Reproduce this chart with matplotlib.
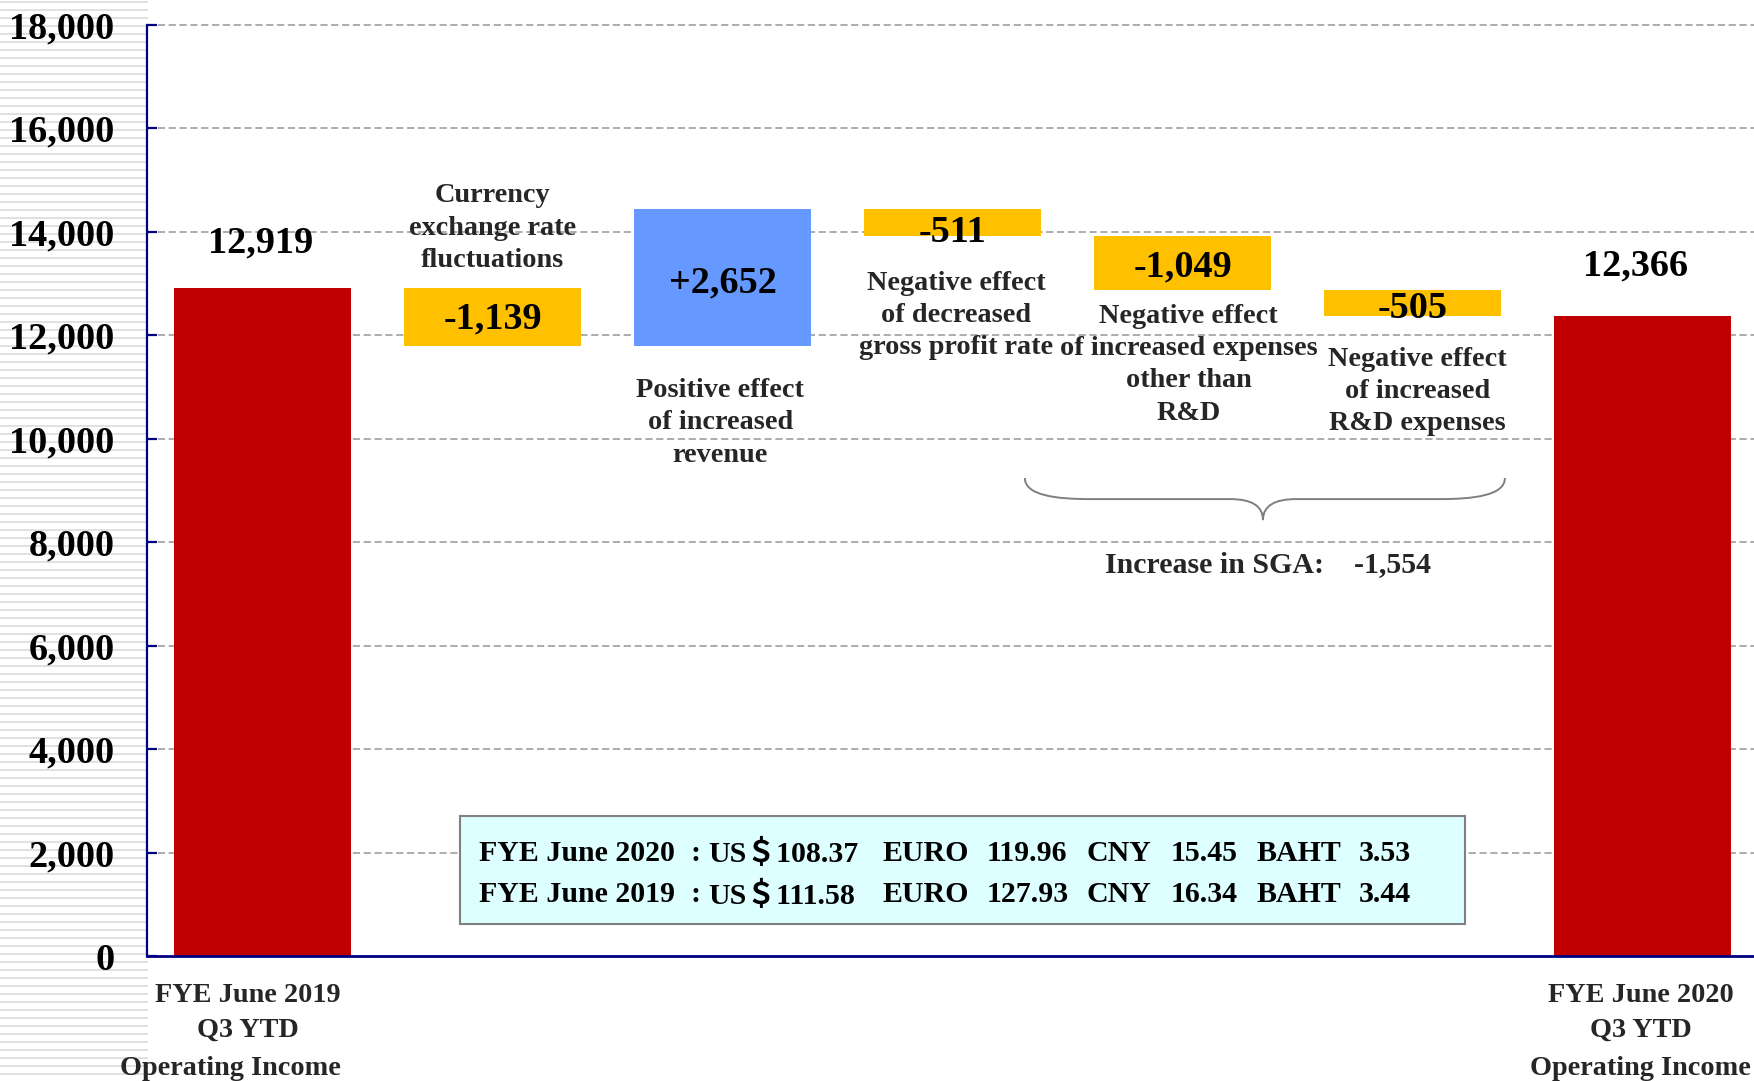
import matplotlib
matplotlib.use("Agg")
import matplotlib.pyplot as plt
from matplotlib.patches import Rectangle, PathPatch
from matplotlib.path import Path

# ---------------- data ----------------
start_label = "FYE June 2019\nQ3 YTD\nOperating Income"
end_label = "FYE June 2020\nQ3 YTD\nOperating Income"
start_value = 12919
end_value = 12366
change_labels = [
    "Currency\nexchange rate\nfluctuations",
    "Positive effect\nof increased\nrevenue",
    "Negative effect\nof decreased\ngross profit rate",
    "Negative effect\nof increased expenses\nother than\nR&D",
    "Negative effect\nof increased\nR&D expenses",
]
change_values = [-1139, 2652, -511, -1049, -505]
sga_label = "Increase in SGA:    -1,554"
yticks = [0, 2000, 4000, 6000, 8000, 10000, 12000, 14000, 16000, 18000]
fx_rows = [
    ["FYE June 2020", ":", "US＄108.37", "EURO", "119.96", "CNY", "15.45", "BAHT", "3.53"],
    ["FYE June 2019", ":", "US＄111.58", "EURO", "127.93", "CNY", "16.34", "BAHT", "3.44"],
]

# ---------------- style ----------------
RED = "#C00000"
GOLD = "#FFC000"
BLUE = "#6699FF"
NAVY = "#000080"
GRID = "#A6A6A6"
DARK = "#262626"
FONT = ["Liberation Serif", "DejaVu Serif"]
FONT_FX = ["Liberation Serif", "Noto Sans CJK JP", "DejaVu Serif"]
BIG = 27.5
MID = 20.3

W, H = 1754, 1081
fig = plt.figure(figsize=(W / 100, H / 100), dpi=100)
fig.patch.set_facecolor("white")

# striped decoration at the left
bg = fig.add_axes([0, 0, 148 / W, 1])
bg.set_xlim(0, 1)
bg.set_ylim(0, H)
bg.axis("off")
k = 0
while 1.7 + 8 * k < H:
    bg.axhline(H - (1.7 + 8 * k), color="#D9D9D9", lw=1.1)
    k += 1

ax = fig.add_axes([146.5 / W, 125 / H, 1 - 146.5 / W, 931.4 / H])
ax.set_facecolor("white")
ax.set_xlim(-0.505, 6.484)
ax.set_ylim(0, 18000)

bw = 0.767
n = len(change_values)
xs = list(range(n + 2))

# grid
for t in yticks[1:]:
    ax.axhline(t, color=GRID, lw=1.3, dashes=(4, 2), zorder=0.5, clip_on=False)

# start / end bars
ax.bar(xs[0], start_value, width=bw, color=RED, zorder=2)
ax.bar(xs[-1], end_value, width=bw, color=RED, zorder=2)
ax.text(xs[0] - 0.01, start_value + 860, f"{start_value:,}", ha="center", va="center",
        fontsize=BIG, fontweight="bold", family=FONT, color="black", zorder=5)
ax.text(xs[-1] - 0.03, end_value + 970, f"{end_value:,}", ha="center", va="center",
        fontsize=BIG, fontweight="bold", family=FONT, color="black", zorder=5)

# floating bars
label_shift = [-40, -95, -190, -80, -110]
level = start_value
for i, v in enumerate(change_values):
    new = level + v
    ax.bar(xs[i + 1], abs(v), bottom=min(level, new), width=bw,
           color=BLUE if v > 0 else GOLD, zorder=2)
    lab = f"{v:+,}" if v > 0 else f"{v:,}"
    ax.text(xs[i + 1], min(level, new) + abs(v) / 2 + label_shift[i], lab,
            ha="center", va="center", fontsize=BIG, fontweight="bold",
            family=FONT, color="black", zorder=5)
    level = new

# description texts (layout positions)
desc_pos = [(1.0, 14064), (1.99, 10303), (3.015, 12379), (4.025, 11426), (5.02, 10908)]
for (x, y), lab in zip(desc_pos, change_labels):
    ax.text(x, y, lab, ha="center", va="center", fontsize=MID, fontweight="bold",
            family=FONT, color=DARK, linespacing=1.39, zorder=5)

# category labels under axis
line_y = [-760, -1440, -2170]
for x, lab, shifts in [(xs[0], start_label, [-0.065, -0.065, -0.14]),
                       (xs[-1], end_label, [-0.01, -0.01, -0.01])]:
    for ln, yy, sh in zip(lab.split("\n"), line_y, shifts):
        ax.text(x + sh, yy, ln, ha="center", va="center", fontsize=MID,
                fontweight="bold", family=FONT, color=DARK, clip_on=False)

# brace
verts = [
    (3.314, 9237), (3.314, 8900), (3.45, 8830), (3.597, 8830),
    (4.205, 8830),
    (4.30, 8830), (4.349, 8700), (4.349, 8424),
    (4.349, 8700), (4.40, 8830), (4.493, 8830),
    (5.118, 8830),
    (5.265, 8830), (5.401, 8900), (5.401, 9237),
]
codes = [Path.MOVETO, Path.CURVE4, Path.CURVE4, Path.CURVE4,
         Path.LINETO,
         Path.CURVE4, Path.CURVE4, Path.CURVE4,
         Path.CURVE4, Path.CURVE4, Path.CURVE4,
         Path.LINETO,
         Path.CURVE4, Path.CURVE4, Path.CURVE4]
ax.add_patch(PathPatch(Path(verts, codes), facecolor="none", edgecolor="#7F7F7F",
                       lw=1.4, zorder=3))
ax.text(4.37, 7560, sga_label, ha="center", va="center", fontsize=21.5,
        fontweight="bold", family=FONT, color=DARK, zorder=5)

# exchange rate box
ax.add_patch(Rectangle((0.858, 618), 5.227 - 0.858, 2696 - 618, facecolor="#DDFFFF",
                       edgecolor="#808080", lw=1.5, zorder=3))
col_x = [0.9396, 1.858, 1.937, 2.695, 3.147, 3.584, 3.949, 4.323, 4.767]
row_y = [1985, 1180]
for row, yy in zip(fx_rows, row_y):
    for cx, cell in zip(col_x, row):
        ax.text(cx, yy, cell, ha="left", va="center", fontsize=21.5, fontweight="bold",
                family=FONT_FX, color="black", zorder=5)

# axes styling
ax.set_xticks([])
ax.set_yticks(yticks)
ax.set_yticklabels([f"{t:,}" for t in yticks], fontsize=BIG, fontweight="bold",
                   family=FONT, color="black")
ax.tick_params(axis="y", direction="in", length=7, width=1.6, color=NAVY, pad=23)
for s in ["top", "right"]:
    ax.spines[s].set_visible(False)
ax.spines["left"].set_color(NAVY)
ax.spines["left"].set_linewidth(1.6)
ax.spines["bottom"].set_color(NAVY)
ax.spines["bottom"].set_linewidth(2.0)
ax.spines["left"].set_zorder(4)
ax.spines["bottom"].set_zorder(4)

fig.savefig("out.png", dpi=100)
